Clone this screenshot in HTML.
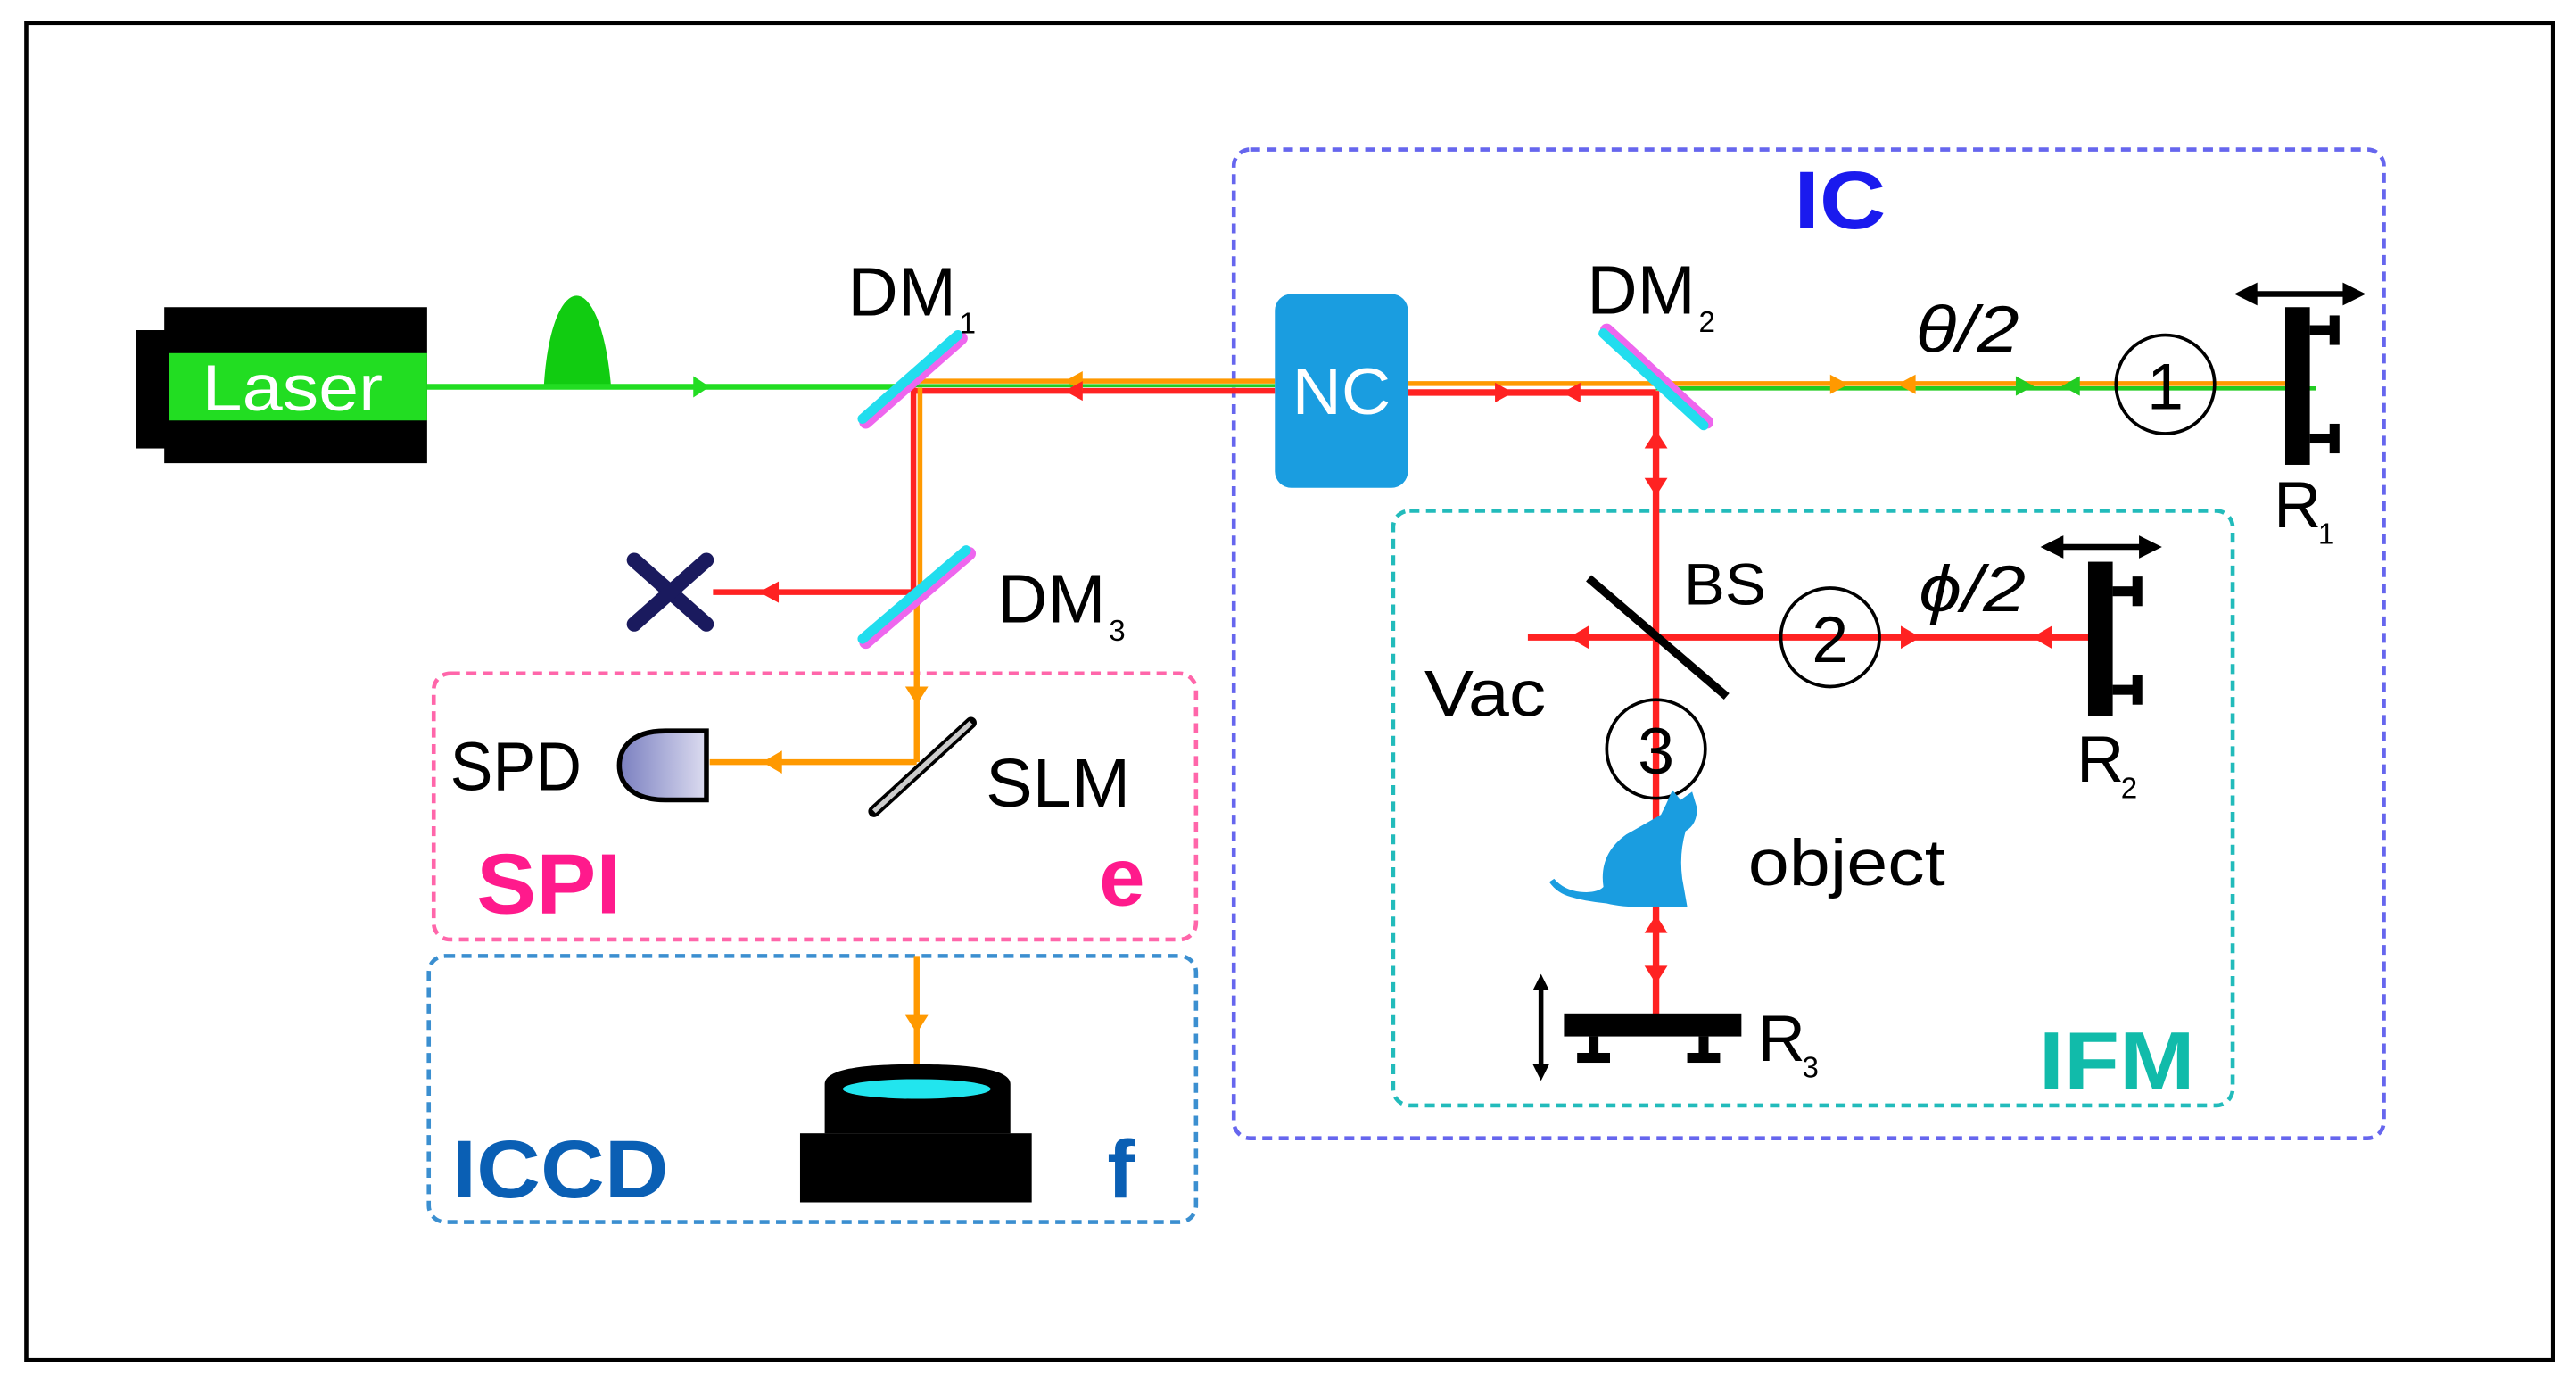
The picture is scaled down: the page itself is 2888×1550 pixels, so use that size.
<!DOCTYPE html>
<html><head><meta charset="utf-8"><style>
html,body{margin:0;padding:0;background:#fff;}
svg{display:block;}
text{font-family:"Liberation Sans",sans-serif;}
</style></head><body>
<svg width="2888" height="1550" viewBox="0 0 1568 842" preserveAspectRatio="none" xmlns="http://www.w3.org/2000/svg">
<defs>
<linearGradient id="spd" x1="0" x2="1" y1="0" y2="0"><stop offset="0" stop-color="#7a7fc0"/><stop offset="1" stop-color="#dcdcf0"/></linearGradient>
</defs>
<rect x="0" y="0" width="1568" height="842" fill="#fff"/>
<rect x="16" y="14" width="1538" height="814" fill="none" stroke="#000" stroke-width="2.5"/>

<rect x="751" y="91" width="700" height="602" rx="10" fill="none" stroke="#6666ee" stroke-width="2.5" stroke-dasharray="6,4"/>
<rect x="848" y="311" width="511" height="362" rx="10" fill="none" stroke="#22bbbb" stroke-width="2.5" stroke-dasharray="6,4"/>
<rect x="264" y="410" width="464" height="162" rx="10" fill="none" stroke="#ff66aa" stroke-width="2.5" stroke-dasharray="6,4"/>
<rect x="261" y="582" width="467" height="162" rx="10" fill="none" stroke="#3b8fd0" stroke-width="2.5" stroke-dasharray="6,4"/>

<rect x="83" y="201" width="20" height="72" fill="#000"/>
<rect x="100" y="187" width="160" height="95" fill="#000"/>
<rect x="103" y="215" width="157" height="41" fill="#22dd22"/>
<text x="178" y="250" font-size="40" fill="#fff" text-anchor="middle" textLength="110" lengthAdjust="spacingAndGlyphs">Laser</text>
<path d="M331,236 C333,200 342,180 351,180 C360,180 369,200 372,236 Z" fill="#11cc11"/>

<line x1="260" y1="235.5" x2="557" y2="235.5" stroke="#22dd22" stroke-width="3.5"/>
<polygon points="432,235.5 422,229 422,242" fill="#22dd22"/>

<line x1="557" y1="232" x2="776" y2="232" stroke="#ff9900" stroke-width="3"/>
<line x1="557" y1="234.8" x2="776" y2="234.8" stroke="#22cc22" stroke-width="2"/>
<line x1="557" y1="238" x2="776" y2="238" stroke="#ff2222" stroke-width="3.5"/>
<polygon points="648,232 659,226 659,238" fill="#ff9900"/>
<polygon points="648,238 659,232 659,244" fill="#ff2222"/>

<line x1="556" y1="236" x2="556" y2="361" stroke="#ff2222" stroke-width="3.5"/>
<line x1="560" y1="236" x2="560" y2="361" stroke="#ff9900" stroke-width="3"/>
<line x1="434" y1="360.5" x2="557" y2="360.5" stroke="#ff2222" stroke-width="3.5"/>
<polygon points="462,360.5 474,354 474,367" fill="#ff2222"/>
<line x1="558" y1="361" x2="558" y2="464" stroke="#ff9900" stroke-width="3.5"/>
<polygon points="558,429 551,418 565,418" fill="#ff9900"/>
<line x1="432" y1="464" x2="558" y2="464" stroke="#ff9900" stroke-width="3.5"/>
<polygon points="464,464 476,457 476,471" fill="#ff9900"/>
<line x1="558" y1="582" x2="558" y2="662" stroke="#ff9900" stroke-width="3.5"/>
<polygon points="558,629 551,618 565,618" fill="#ff9900"/>

<line x1="527" y1="257" x2="585" y2="206" stroke="#ee66ee" stroke-width="8" stroke-linecap="round"/>
<line x1="525" y1="255" x2="583" y2="204" stroke="#22ddee" stroke-width="6" stroke-linecap="round"/>
<text x="516" y="192" font-size="42" textLength="66" lengthAdjust="spacingAndGlyphs">DM</text><text x="584" y="203" font-size="18">1</text>
<line x1="527" y1="391" x2="590" y2="337" stroke="#ee66ee" stroke-width="8" stroke-linecap="round"/>
<line x1="525" y1="389" x2="588" y2="335" stroke="#22ddee" stroke-width="6" stroke-linecap="round"/>
<text x="607" y="379" font-size="42" textLength="66" lengthAdjust="spacingAndGlyphs">DM</text><text x="675" y="390" font-size="18">3</text>

<g stroke="#1a1a5e" stroke-width="9" stroke-linecap="round">
<line x1="386" y1="341" x2="430" y2="380"/><line x1="430" y1="341" x2="386" y2="380"/>
</g>

<line x1="532" y1="494" x2="591" y2="440" stroke="#000" stroke-width="7" stroke-linecap="round"/>
<line x1="532" y1="494" x2="591" y2="440" stroke="#ccc" stroke-width="3"/>
<text x="600" y="491" font-size="42" textLength="88" lengthAdjust="spacingAndGlyphs">SLM</text>

<path d="M430,445 L430,487 L405,487 C380,487 377,472 377,466 C377,458 382,445 405,445 Z" fill="url(#spd)" stroke="#000" stroke-width="3"/>
<text x="274" y="481" font-size="42" textLength="80" lengthAdjust="spacingAndGlyphs">SPD</text>
<text x="290" y="556" font-size="52" font-weight="bold" fill="#ff1a8c" textLength="88" lengthAdjust="spacingAndGlyphs">SPI</text>
<text x="669" y="551" font-size="50" font-weight="bold" fill="#ff1a8c">e</text>

<rect x="487" y="690" width="141" height="42" fill="#000"/>
<path d="M502,690 L502,660 C502,650 530,648 558,648 C586,648 615,650 615,660 L615,690 Z" fill="#000"/>
<ellipse cx="558" cy="663" rx="45" ry="6" fill="#22e5ee"/>
<text x="275" y="729" font-size="50" font-weight="bold" fill="#0a5fb4" textLength="132" lengthAdjust="spacingAndGlyphs">ICCD</text>
<text x="674" y="729" font-size="50" font-weight="bold" fill="#0a5fb4">f</text>

<text x="1092" y="139" font-size="50" font-weight="bold" fill="#1a1aee" textLength="56" lengthAdjust="spacingAndGlyphs">IC</text>

<line x1="857" y1="233.5" x2="1008" y2="233.5" stroke="#ff9900" stroke-width="3"/>
<line x1="857" y1="239" x2="1008" y2="239" stroke="#ff2222" stroke-width="4"/>
<polygon points="921,239 910,233 910,245" fill="#ff2222"/>
<polygon points="951,239 962,233 962,245" fill="#ff2222"/>

<line x1="1008" y1="233.5" x2="1395" y2="233.5" stroke="#ff9900" stroke-width="3"/>
<line x1="1008" y1="236.5" x2="1410" y2="236.5" stroke="#22cc22" stroke-width="2.5"/>
<polygon points="1125,234 1114,228 1114,240" fill="#ff9900"/>
<polygon points="1155,234 1166,228 1166,240" fill="#ff9900"/>
<polygon points="1238,235 1227,229 1227,241" fill="#22cc22"/>
<polygon points="1255,235 1266,229 1266,241" fill="#22cc22"/>

<rect x="776" y="179" width="81" height="118" rx="10" fill="#1a9de0"/>
<text x="816.5" y="252" font-size="40" fill="#fff" text-anchor="middle" textLength="60" lengthAdjust="spacingAndGlyphs">NC</text>

<line x1="1008" y1="238" x2="1008" y2="619" stroke="#ff2222" stroke-width="4"/>
<g fill="#ff2222">
<polygon points="1008,262 1001,273 1015,273"/>
<polygon points="1008,302 1001,291 1015,291"/>
<polygon points="1008,557 1001,568 1015,568"/>
<polygon points="1008,599 1001,588 1015,588"/>
</g>

<line x1="978" y1="201" x2="1039" y2="257" stroke="#ee66ee" stroke-width="8" stroke-linecap="round"/>
<line x1="976" y1="203" x2="1037" y2="259" stroke="#22ddee" stroke-width="6" stroke-linecap="round"/>
<text x="966" y="191" font-size="42" textLength="66" lengthAdjust="spacingAndGlyphs">DM</text><text x="1034" y="202" font-size="18">2</text>

<text x="1166" y="214" font-size="40" font-style="italic" textLength="63" lengthAdjust="spacingAndGlyphs">θ/2</text>
<circle cx="1318" cy="234" r="30" fill="none" stroke="#000" stroke-width="2"/>
<text x="1318" y="249" font-size="40" text-anchor="middle">1</text>

<rect x="1391" y="187" width="15" height="96" fill="#000"/>
<rect x="1406" y="198" width="14" height="6" fill="#000"/><rect x="1418" y="192" width="6" height="18" fill="#000"/>
<rect x="1406" y="264" width="14" height="6" fill="#000"/><rect x="1418" y="258" width="6" height="18" fill="#000"/>
<line x1="1368" y1="179" x2="1432" y2="179" stroke="#000" stroke-width="3.5"/>
<polygon points="1360,179 1374,172 1374,186"/><polygon points="1440,179 1426,172 1426,186"/>
<text x="1384" y="321" font-size="40">R</text><text x="1411" y="331" font-size="18">1</text>

<line x1="930" y1="388" x2="1272" y2="388" stroke="#ff2222" stroke-width="4"/>
<g fill="#ff2222">
<polygon points="955,388 967,381 967,395"/>
<polygon points="1169,388 1157,381 1157,395"/>
<polygon points="1237,388 1249,381 1249,395"/>
</g>
<line x1="967" y1="352" x2="1051" y2="424" stroke="#000" stroke-width="5"/>
<text x="1025" y="368" font-size="36" textLength="50" lengthAdjust="spacingAndGlyphs">BS</text>
<circle cx="1114" cy="388" r="30" fill="none" stroke="#000" stroke-width="2"/>
<text x="1114" y="403" font-size="40" text-anchor="middle">2</text>
<text x="1168" y="372" font-size="40" font-style="italic" textLength="65" lengthAdjust="spacingAndGlyphs">ϕ/2</text>

<rect x="1271" y="342" width="15" height="94" fill="#000"/>
<rect x="1286" y="357" width="14" height="6" fill="#000"/><rect x="1298" y="351" width="6" height="18" fill="#000"/>
<rect x="1286" y="417" width="14" height="6" fill="#000"/><rect x="1298" y="411" width="6" height="18" fill="#000"/>
<line x1="1250" y1="333" x2="1308" y2="333" stroke="#000" stroke-width="3.5"/>
<polygon points="1242,333 1256,326 1256,340"/><polygon points="1316,333 1302,326 1302,340"/>
<text x="1264" y="476" font-size="40">R</text><text x="1291" y="486" font-size="18">2</text>

<text x="867" y="436" font-size="40" textLength="74" lengthAdjust="spacingAndGlyphs">Vac</text>
<circle cx="1008" cy="456" r="30" fill="none" stroke="#000" stroke-width="2"/>
<text x="1008" y="471" font-size="40" text-anchor="middle">3</text>

<path d="M1014,490 L1018,481 L1023,487 L1030,482 L1033,492 Q1033,502 1026,506 Q1022,520 1024,535 L1027,552 L1010,552 Q990,553 978,550 Q966,549 956,546 Q948,544 943,537 L946,535 Q952,542 962,543 Q972,544 976,540 Q973,520 990,508 Q1004,500 1011,496 Z" fill="#1a9de0"/>
<text x="1064" y="539" font-size="40" textLength="120" lengthAdjust="spacingAndGlyphs">object</text>

<rect x="952" y="617" width="108" height="14" fill="#000"/>
<rect x="967" y="631" width="6" height="12" fill="#000"/><rect x="960" y="641" width="20" height="6" fill="#000"/>
<rect x="1034" y="631" width="6" height="12" fill="#000"/><rect x="1027" y="641" width="20" height="6" fill="#000"/>
<line x1="938" y1="600" x2="938" y2="651" stroke="#000" stroke-width="3"/>
<polygon points="938,593 933,603 943,603"/><polygon points="938,658 933,648 943,648"/>
<text x="1070" y="646" font-size="40">R</text><text x="1097" y="656" font-size="18">3</text>
<text x="1241" y="663" font-size="50" font-weight="bold" fill="#11bbaa" textLength="95" lengthAdjust="spacingAndGlyphs">IFM</text>
</svg>
</body></html>
